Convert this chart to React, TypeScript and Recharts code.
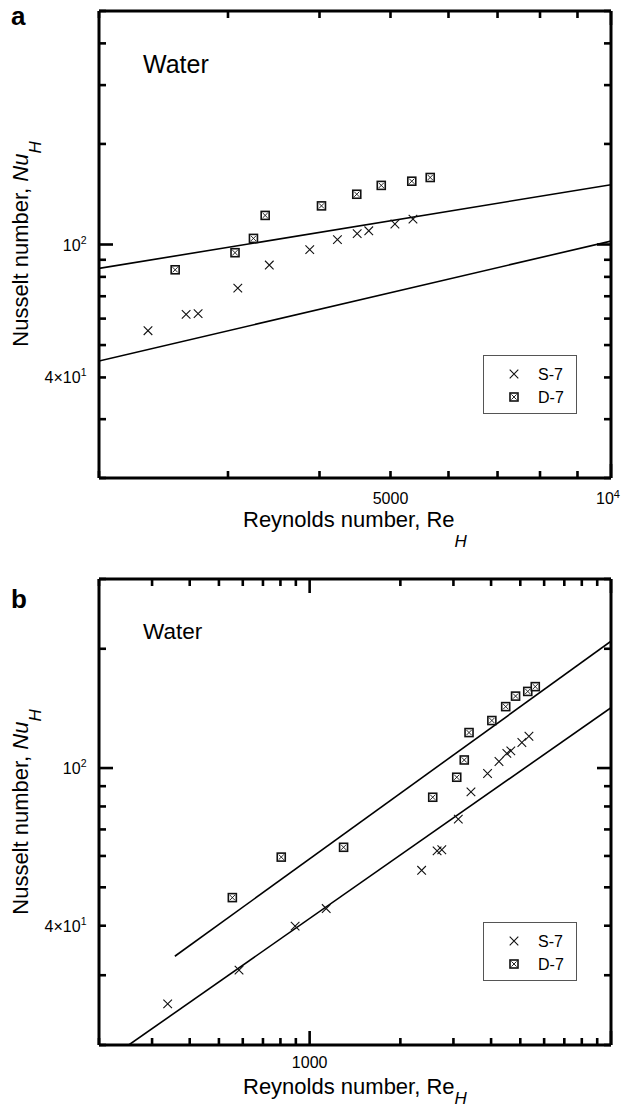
import { ScatterChart, Scatter, XAxis, YAxis, Legend } from "recharts";

// ---- panel a : Re 2000..10^4 ----
const aS7Re = [2333, 2630, 2731, 3094, 3416, 3879, 4232, 4503, 4670, 5070, 5366];
const aS7Nu = [55.2, 61.8, 62.1, 74.0, 86.8, 96.5, 103.4, 107.8, 109.9, 115.2, 119.1];
const aD7Re = [2541, 3067, 3250, 3372, 4025, 4497, 4857, 5346, 5665];
const aD7Nu = [84.0, 94.5, 104.3, 122.2, 130.5, 141.4, 150.3, 154.7, 158.7];
const aUpperRe = [2000, 10000];
const aUpperNu = [84.8, 151.0];
const aLowerRe = [2000, 10000];
const aLowerNu = [44.8, 102.4];

// ---- panel b : Re 200..10^4 ----
const bS7Re = [338, 583, 895, 1135, 2353, 2648, 2745, 3114, 3430, 3894, 4249, 4512, 4651, 5061, 5342];
const bS7Nu = [25.4, 30.9, 39.9, 44.2, 55.2, 61.8, 62.2, 74.3, 87.1, 96.9, 103.9, 108.9, 110.5, 116.0, 120.3];
const bD7Re = [554, 805, 1296, 2561, 3077, 3259, 3380, 4024, 4473, 4823, 5294, 5607];
const bD7Nu = [47.1, 59.6, 63.1, 84.4, 94.8, 104.8, 122.9, 131.8, 142.9, 151.9, 156.1, 160.5];
const bUpperRe = [357, 10000];
const bUpperNu = [33.5, 209];
const bLowerRe = [251, 10000];
const bLowerNu = [20, 142];

// ticks
const aXTicks = [2000, 3000, 4000, 5000, 6000, 7000, 8000, 9000, 10000];
const aYTicks = [20, 30, 40, 50, 60, 70, 80, 90, 100, 200, 300, 400, 500];
const bXTicks = [200, 300, 400, 500, 600, 700, 800, 900, 1000, 2000, 3000, 4000, 5000, 6000, 7000, 8000, 9000, 10000];
const bYTicks = [20, 30, 40, 50, 60, 70, 80, 90, 100, 200, 300];
const xMajors = [1000, 10000];
const yMajors = [100];
const seriesOrder = ["S-7", "D-7"];

type TickLabel = { value: number; base: string; sup?: string };
const aXLabels: TickLabel[] = [
  { value: 5000, base: "5000" },
  { value: 10000, base: "10", sup: "4" },
];
const bXLabels: TickLabel[] = [{ value: 1000, base: "1000" }];
const yLabels: TickLabel[] = [
  { value: 100, base: "10", sup: "2" },
  { value: 40, base: "4×10", sup: "1" },
];

const FONT = '"Liberation Sans", Arial, Helvetica, sans-serif';

const zip = (xs: number[], ys: number[]) => xs.map((x, i) => ({ re: x, nu: ys[i] }));

const AxisTick = (props: any) => {
  const { x, y, payload, side, majors, labels, drop } = props;
  const v = payload.value;
  const len = majors.includes(v) ? 14 : 7;
  let x2 = x;
  let y2 = y;
  if (side === "bottom") y2 = y - len;
  if (side === "top") y2 = y + len;
  if (side === "left") x2 = x + len;
  if (side === "right") x2 = x - len;
  const lab = (labels || []).find((l: TickLabel) => l.value === v);
  let text = null;
  if (lab && side === "bottom") {
    text = (
      <text x={lab.sup ? x - 3 : x} y={y + drop} textAnchor="middle" fontSize={16} fontFamily={FONT} fill="#000">
        {lab.base}
        {lab.sup && <tspan fontSize={11} dy={-6}>{lab.sup}</tspan>}
      </text>
    );
  }
  if (lab && side === "left") {
    text = (
      <text x={x - 12.5} y={y + 6} textAnchor="end" fontSize={16} fontFamily={FONT} fill="#000">
        {lab.base}
        {lab.sup && <tspan fontSize={10.5} dy={-7}>{lab.sup}</tspan>}
      </text>
    );
  }
  return (
    <g>
      <line x1={x} y1={y} x2={x2} y2={y2} stroke="#000" strokeWidth={2.6} />
      {text}
    </g>
  );
};

const CrossMark = (props: any) => {
  const { cx, cy } = props;
  const r = 4.3;
  return (
    <path
      d={`M${cx - r},${cy - r}L${cx + r},${cy + r}M${cx - r},${cy + r}L${cx + r},${cy - r}`}
      stroke="#111"
      strokeWidth={1.1}
      fill="none"
    />
  );
};

const BoxCrossMark = (props: any) => {
  const { cx, cy } = props;
  const r = 4;
  const q = 2.6;
  return (
    <g>
      <rect x={cx - r} y={cy - r} width={2 * r} height={2 * r} fill="#fff" stroke="#111" strokeWidth={1.6} />
      <path
        d={`M${cx - q},${cy - q}L${cx + q},${cy + q}M${cx - q},${cy + q}L${cx + q},${cy - q}`}
        stroke="#111"
        strokeWidth={0.9}
      />
    </g>
  );
};

const NoDot = () => <g />;

const LegendBox = (props: any) => {
  const items = (props.payload || [])
    .filter((p: any) => p.type !== "none" && seriesOrder.includes(p.value))
    .sort((a: any, b: any) => seriesOrder.indexOf(a.value) - seriesOrder.indexOf(b.value));
  return (
    <svg width={94} height={59} style={{ display: "block" }}>
      <rect x={0.5} y={0.5} width={93} height={58} fill="#fff" stroke="#555" strokeWidth={1} />
      {items.map((p: any, i: number) => {
        const cy = 19 + i * 23;
        return (
          <g key={p.value}>
            {p.value === "S-7" ? <CrossMark cx={31} cy={cy} /> : <BoxCrossMark cx={31} cy={cy} />}
            <text x={55} y={cy + 6} fontSize={16} fontFamily={FONT} fill="#000">
              {p.value}
            </text>
          </g>
        );
      })}
    </svg>
  );
};

type PanelProps = {
  top: number;
  height: number;
  margin: { top: number; right: number; bottom: number; left: number };
  xDomain: [number, number];
  yDomain: [number, number];
  xTicks: number[];
  yTicks: number[];
  xLabels: TickLabel[];
  labelDrop: number;
  s7: { re: number; nu: number }[];
  d7: { re: number; nu: number }[];
  upper: { re: number; nu: number }[];
  lower: { re: number; nu: number }[];
  legendTop: number;
};

const axisLine = { stroke: "#000", strokeWidth: 3 };

// axes are 1px thick so recharts still renders them; margins are 1px smaller to keep the plot box
const Panel = (p: PanelProps) => (
  <div style={{ position: "absolute", left: 0, top: p.top }}>
    <ScatterChart width={624} height={p.height} margin={p.margin}>
      <XAxis
        xAxisId="bottom"
        type="number"
        dataKey="re"
        scale="log"
        domain={p.xDomain}
        allowDataOverflow
        ticks={p.xTicks}
        interval={0}
        height={1}
        tickSize={0}
        tickMargin={0}
        tickLine={false}
        axisLine={axisLine}
        tick={(t: any) => (
          <AxisTick {...t} side="bottom" majors={xMajors} labels={p.xLabels} drop={p.labelDrop} />
        )}
      />
      <XAxis
        xAxisId="top"
        orientation="top"
        type="number"
        dataKey="re"
        scale="log"
        domain={p.xDomain}
        allowDataOverflow
        ticks={p.xTicks}
        interval={0}
        height={1}
        tickSize={0}
        tickMargin={0}
        tickLine={false}
        axisLine={axisLine}
        tick={(t: any) => <AxisTick {...t} side="top" majors={xMajors} />}
      />
      <YAxis
        yAxisId="left"
        type="number"
        dataKey="nu"
        scale="log"
        domain={p.yDomain}
        allowDataOverflow
        ticks={p.yTicks}
        interval={0}
        width={1}
        tickSize={0}
        tickMargin={0}
        tickLine={false}
        axisLine={axisLine}
        tick={(t: any) => <AxisTick {...t} side="left" majors={yMajors} labels={yLabels} />}
      />
      <YAxis
        yAxisId="right"
        orientation="right"
        type="number"
        dataKey="nu"
        scale="log"
        domain={p.yDomain}
        allowDataOverflow
        ticks={p.yTicks}
        interval={0}
        width={1}
        tickSize={0}
        tickMargin={0}
        tickLine={false}
        axisLine={axisLine}
        tick={(t: any) => <AxisTick {...t} side="right" majors={yMajors} />}
      />
      <Scatter
        xAxisId="bottom"
        yAxisId="left"
        data={p.upper}
        line={{ stroke: "#000", strokeWidth: 1.6 }}
        shape={NoDot}
        legendType="none"
        isAnimationActive={false}
      />
      <Scatter
        xAxisId="bottom"
        yAxisId="left"
        data={p.lower}
        line={{ stroke: "#000", strokeWidth: 1.6 }}
        shape={NoDot}
        legendType="none"
        isAnimationActive={false}
      />
      <Scatter
        name="S-7"
        xAxisId="bottom"
        yAxisId="left"
        data={p.s7}
        fill="#111"
        shape={CrossMark}
        isAnimationActive={false}
      />
      <Scatter
        name="D-7"
        xAxisId="bottom"
        yAxisId="left"
        data={p.d7}
        fill="#111"
        shape={BoxCrossMark}
        isAnimationActive={false}
      />
      <Legend
        layout="vertical"
        align="center"
        verticalAlign="middle"
        content={LegendBox}
        wrapperStyle={{ left: 483, top: p.legendTop, width: 94, height: 59 }}
      />
    </ScatterChart>
  </div>
);

const Titles = ({ letter, letterY, waterY, waterSize, xTitleY, subDrop, yMid }: any) => (
  <>
    <text x={11} y={letterY} fontSize={26} fontWeight="bold" fontFamily={FONT}>
      {letter}
    </text>
    <text x={143} y={waterY} fontSize={waterSize} fontFamily={FONT}>
      Water
    </text>
    <text x={243} y={xTitleY} fontSize={22} fontFamily={FONT}>
      Reynolds number, Re
      <tspan fontStyle="italic" fontSize={17} dy={subDrop}>
        H
      </tspan>
    </text>
    <text transform={`translate(27.5,${yMid}) rotate(-90)`} textAnchor="middle" fontSize={22} fontFamily={FONT}>
      Nusselt number, <tspan fontStyle="italic">Nu</tspan>
      <tspan fontStyle="italic" fontSize={17} dy={13}>
        H
      </tspan>
    </text>
  </>
);

export default function App() {
  return (
    <div style={{ position: "absolute", left: 0, top: 0, width: 624, height: 1111, background: "#fff" }}>
      <Panel
        top={0}
        height={555}
        margin={{ top: 10, right: 12, bottom: 76, left: 98 }}
        xDomain={[2000, 10000]}
        yDomain={[20, 500]}
        xTicks={aXTicks}
        yTicks={aYTicks}
        xLabels={aXLabels}
        labelDrop={26}
        s7={zip(aS7Re, aS7Nu)}
        d7={zip(aD7Re, aD7Nu)}
        upper={zip(aUpperRe, aUpperNu)}
        lower={zip(aLowerRe, aLowerNu)}
        legendTop={355}
      />
      <Panel
        top={556}
        height={555}
        margin={{ top: 22, right: 12, bottom: 65, left: 98 }}
        xDomain={[200, 10000]}
        yDomain={[20, 300]}
        xTicks={bXTicks}
        yTicks={bYTicks}
        xLabels={bXLabels}
        labelDrop={23}
        s7={zip(bS7Re, bS7Nu)}
        d7={zip(bD7Re, bD7Nu)}
        upper={zip(bUpperRe, bUpperNu)}
        lower={zip(bLowerRe, bLowerNu)}
        legendTop={366}
      />
      <svg
        width={624}
        height={1111}
        style={{ position: "absolute", left: 0, top: 0, pointerEvents: "none" }}
      >
        <Titles letter="a" letterY={25} waterY={73} waterSize={25} xTitleY={527} subDrop={20} yMid={244} />
        <Titles letter="b" letterY={608} waterY={639} waterSize={22.5} xTitleY={1094} subDrop={10} yMid={812} />
      </svg>
    </div>
  );
}
